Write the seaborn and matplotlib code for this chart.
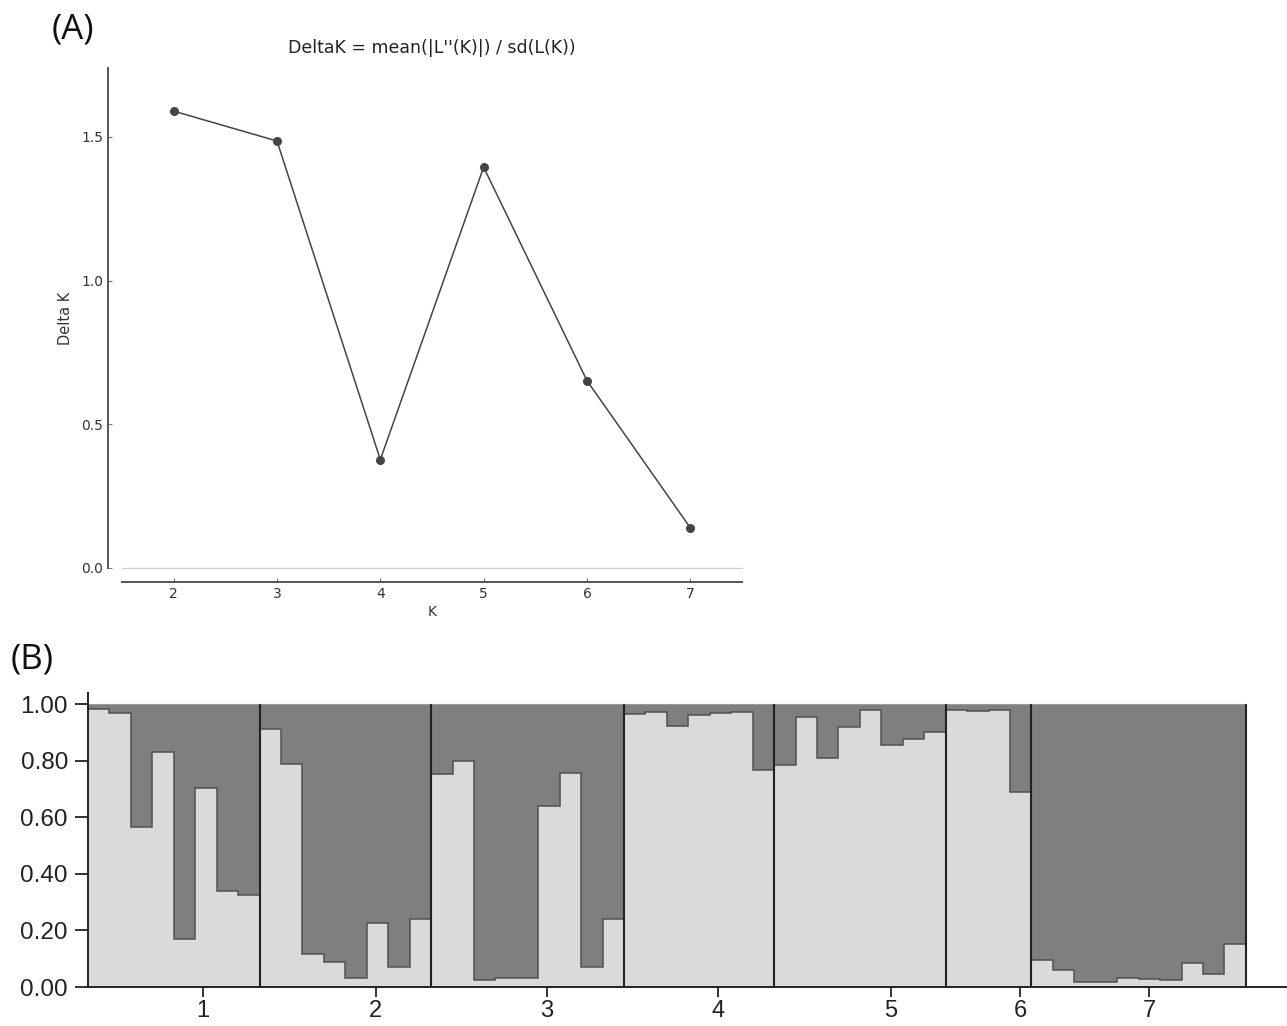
import numpy as np
import pandas as pd
import seaborn as sns
import matplotlib.pyplot as plt

# --- dados: painel A (Evanno DeltaK) ---
k_values = [2, 3, 4, 5, 6, 7]
delta_k = [1.59, 1.486, 0.377, 1.395, 0.652, 0.14]

# --- dados: painel B (proporção do cluster claro por indivíduo, por população) ---
pop1 = [0.985, 0.97, 0.565, 0.83, 0.169, 0.703, 0.34, 0.326]
pop2 = [0.914, 0.79, 0.116, 0.09, 0.033, 0.228, 0.071, 0.239]
pop3 = [0.754, 0.799, 0.024, 0.031, 0.033, 0.642, 0.757, 0.071, 0.24]
pop4 = [0.965, 0.973, 0.922, 0.964, 0.969, 0.973, 0.768]
pop5 = [0.784, 0.957, 0.811, 0.92, 0.981, 0.855, 0.878, 0.902]
pop6 = [0.981, 0.976, 0.981, 0.691]
pop7 = [0.095, 0.059, 0.019, 0.019, 0.031, 0.03, 0.024, 0.086, 0.045, 0.151]
pop_labels = ["1", "2", "3", "4", "5", "6", "7"]
y_ticks_b = [0.0, 0.2, 0.4, 0.6, 0.8, 1.0]

LIGHT = "#dadada"
DARK = "#7f7f7f"

sns.set_theme(style="ticks")
plt.rcParams["font.family"] = ["DejaVu Sans"]

fig = plt.figure(figsize=(12.87, 10.26), dpi=100)

# ---------------- Painel A ----------------
ax1 = fig.add_axes([0.0948, 0.4464, 0.4817, 0.4873])
df_a = pd.DataFrame({"K": k_values, "DeltaK": delta_k})
sns.lineplot(data=df_a, x="K", y="DeltaK", ax=ax1, color="#444444",
             marker="o", markersize=6.5, markeredgewidth=0, linewidth=1.1)
ax1.axhline(0, color="#d0d0d0", linewidth=1.0, clip_on=False, zorder=0)
ax1.set_xlim(1.5, 7.5)
ax1.set_ylim(0, 1.74)
ax1.set_xticks(k_values)
ax1.set_yticks([0.0, 0.5, 1.0, 1.5])
ax1.set_yticklabels(["0.0", "0.5", "1.0", "1.5"])
ax1.tick_params(direction="in", length=3, width=0.8, color="#777777",
                labelsize=10, labelcolor="#333333")
sns.despine(ax=ax1, offset=10)
for s in ["left", "bottom"]:
    ax1.spines[s].set_color("#555555")
    ax1.spines[s].set_linewidth(1.4)
ax1.set_xlabel("K", fontsize=10, color="#333333", labelpad=3)
ax1.set_ylabel("Delta K", fontsize=10.5, color="#333333", labelpad=6)
ax1.set_title("DeltaK = mean(|L''(K)|) / sd(L(K))", fontsize=12.5,
              color="#222222", pad=11)

# ---------------- Painel B ----------------
pops = [pop1, pop2, pop3, pop4, pop5, pop6, pop7]
light = np.concatenate(pops)
n = len(light)
idx = np.arange(n)
df_b = pd.DataFrame({"ind": idx, "light": light, "total": np.ones(n)})

ax2 = fig.add_axes([0.0684, 0.038, 0.9316, 0.2865])
sns.barplot(data=df_b, x="ind", y="total", color=DARK, width=1.0,
            linewidth=0, saturation=1, ax=ax2)
sns.barplot(data=df_b, x="ind", y="light", color=LIGHT, width=1.0,
            linewidth=0, saturation=1, ax=ax2)
ax2.stairs(light, np.arange(n + 1) - 0.5, color="#505050", linewidth=1.1,
           baseline=None)
ax2.hlines(1.0, -0.5, n - 0.5, color="#9a9a9a", linewidth=0.8)

bounds = np.cumsum([len(p) for p in pops]) - 0.5
ax2.vlines(bounds, 0, 1, color="#222222", linewidth=1.5)

ax2.set_xlim(-0.5, 55.42)
ax2.set_ylim(0, 1.04)
ax2.set_xticks([4.87, 12.92, 20.9, 28.89, 36.95, 42.97, 49.0])
ax2.set_xticklabels(pop_labels, family=["Liberation Sans"], fontsize=17)
ax2.set_yticks(y_ticks_b)
ax2.set_yticklabels([f"{v:.2f}" for v in y_ticks_b],
                    family=["Liberation Sans"], fontsize=17.5)
ax2.tick_params(axis="y", direction="out", length=9.5, width=1.3,
                color="#222222", labelcolor="#222222", pad=5)
ax2.tick_params(axis="x", direction="out", length=7, width=1.3,
                color="#222222", labelcolor="#222222", pad=2)
ax2.set_xlabel("")
ax2.set_ylabel("")
sns.despine(ax=ax2)
for s in ["left", "bottom"]:
    ax2.spines[s].set_color("#222222")
    ax2.spines[s].set_linewidth(1.4)

# rótulos dos painéis
fig.text(73 / 1287, 1 - 29 / 1026, "(A)", family=["Open Sans"], fontsize=25,
         ha="center", va="center", color="#111111")
fig.text(32 / 1287, 1 - 659 / 1026, "(B)", family=["Open Sans"], fontsize=25,
         ha="center", va="center", color="#111111")

fig.savefig("out.png", dpi=100, facecolor="white")
